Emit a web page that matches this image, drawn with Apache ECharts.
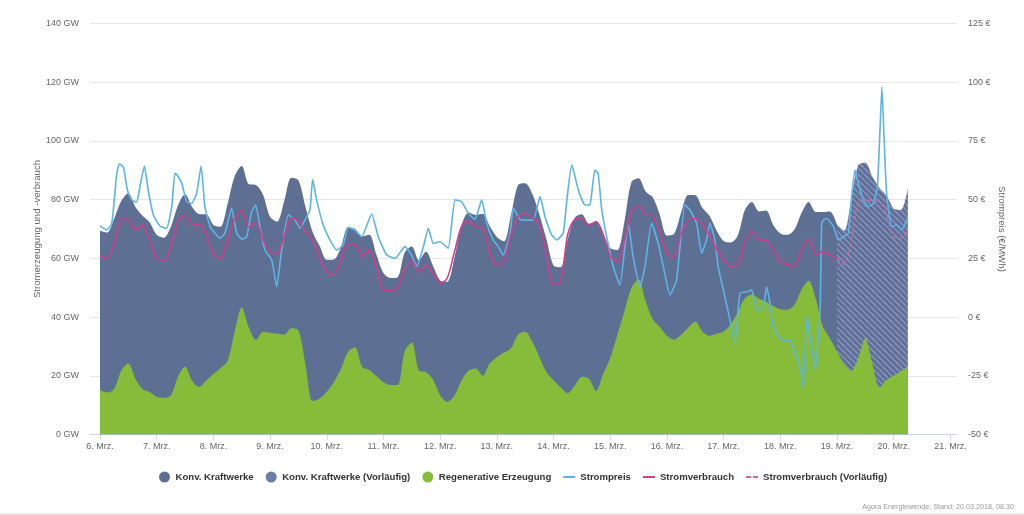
<!DOCTYPE html>
<html><head><meta charset="utf-8">
<script src="https://cdn.jsdelivr.net/npm/echarts@6/dist/echarts.min.js"></script>
<style>html,body{margin:0;padding:0;background:#fff}#c{width:1024px;height:515px}</style>
</head><body><div id="c"></div><script>
// ---- data (hours since 6 March 2018, 00:00) ----
const dayLabels = ['6. Mrz.','7. Mrz.','8. Mrz.','9. Mrz.','10. Mrz.','11. Mrz.','12. Mrz.','13. Mrz.','14. Mrz.','15. Mrz.','16. Mrz.','17. Mrz.','18. Mrz.','19. Mrz.','20. Mrz.','21. Mrz.'];
const dayTickHours = [0,24,48,72,96,120,144,168,192,216,240,264,288,312,336,360];
const hours = [0,3,6,9,12,15,18,21,24,27,30,33,36,39,42,45,48,51,54,57,60,63,66,69,72,75,78,81,84,87,90,93,96,99,102,105,108,111,114,117,120,123,126,129,132,135,138,141,144,147,150,153,156,159,162,165,168,171,174,177,180,183,186,189,192,195,198,201,204,207,210,213,216,219,222,225,228,231,234,237,240,243,246,249,252,255,258,261,264,267,270,273,276,279,282,285,288,291,294,297,300,303,306,309,312,315,318,321,324,327,330,333,336,339,342];
const provisionalFrom = 312;
const regenerative = [
 15.2,14.3,15.5,21.7,24.2,19,15.5,14.5,
 12.9,12.5,13.3,19.7,23.2,18.3,16.2,18.4,
 20.6,22.6,25,35,43.3,36.5,32.2,34.9,
 34.7,34.4,34,36.2,35.5,23.8,11.4,12.3,
 14.6,17.9,22.3,28.1,29.7,23,22,19.9,
 17.8,16.9,16.9,28.4,31.3,21.8,21.3,18.7,
 13.4,11.1,13.2,18.3,21.8,22.5,20,24.2,
 26.3,27.9,29.4,34.1,35,31.6,26.4,21.2,
 18.5,16.1,14.1,16.7,19.7,19,14.8,20.6,
 26.1,33.9,42,50,52.9,45.4,39.3,36.6,
 33.6,32.3,34,36.4,38.5,35.1,33.6,34.3,
 35.1,37.5,41.7,46.4,47.7,46.2,45.2,43.8,
 42.7,42.5,44.2,49.4,52.4,46.2,36.7,32.8,
 28.3,24.2,21.7,26.1,32.8,24,16,18.6,
 20,21.5,23.1];
const conventional = [
 54.2,54.5,58,57.8,58,58.5,59,57.8,
 55.1,54.5,57.5,58.3,58.6,59.2,58.9,56.6,
 50.8,48.2,53.5,53,48.2,48.8,52.8,46.8,
 39.5,38.1,45.5,51.3,51.1,53.7,57.6,51.9,
 44.9,41.7,41.4,42.4,40.3,44.5,46,41.4,
 37.2,36.4,36.7,33.6,32.7,37.5,41,38.7,
 39.1,40.9,46.8,52.9,53.8,52.3,55.2,46.8,
 41,37.9,45.4,50.9,50.6,50.4,48.6,45.3,
 39.1,40.9,52.4,57.1,55.3,52.8,57.7,47.7,
 37.4,28.9,30.5,36,34.4,37.4,41.5,38.2,
 34.2,36,41.5,45.2,43,42.1,40.9,35.2,
 30.8,27.9,26.1,30.1,31.5,29.8,31.1,27.6,
 25.8,25.5,25.6,26.1,26.8,29.6,39.1,43.2,
 43.2,45.2,58.3,65.7,59.8,63.8,68,62.8,
 57,55,60.7];
const consumption = [
 60.6,60,65,73.3,73.4,69.7,71.4,66,
 60,59.2,64.2,72.6,74.7,71.3,71.5,68,
 61.4,59.9,66.3,73.4,76.3,70.6,72.2,66.4,
 62,61.6,67.8,73.8,72.7,69,66.5,60.2,
 55.4,54.6,59.4,64.5,64.5,60.6,62.8,57.4,
 49.2,49,50.1,56,59.2,55.2,57.6,55,
 51.4,53.3,62,70.7,72.8,70.8,70.6,62,
 57.5,59.3,68.3,74.1,75.3,73.8,71.4,61.5,
 51.2,52,68.1,73.2,73.5,71.3,72.5,68.2,
 60.8,58.9,66,76,77.8,74.9,74.5,68.8,
 61.5,60.6,68.4,73.1,73.6,71.8,68,63.1,
 59.4,57.2,57.7,65.7,69,66.3,66.1,62.8,
 59,57.9,57.4,63.2,66.6,61.3,62.3,61.1,
 60,57.9,65.8,79.2,80,79.5,79.2,74.8,
 67.2,66.7,69.7];
const priceHours = [0,2.8,5,7.1,8.2,9.9,11.6,13.4,15.5,16.9,18.8,20.4,22.6,25.4,28.2,30.4,31.7,32.7,34.6,36.7,38.8,40.9,42.8,44.4,46.6,48.7,50.8,52.9,55.7,57.9,60,62.1,64.2,65.9,67.7,69.8,72.7,74.8,76.9,79.7,82.5,84.7,86.8,88.9,90,91.7,94.5,97.4,100.2,103,105.1,107.9,110.8,115,117.8,121.4,124.9,129.1,131.9,134.1,136.9,139,141.1,143.9,147.4,150.3,153.1,155.9,158.7,161.6,163.7,166.5,168.6,170.7,173.6,175,177.8,180.6,183.4,186.3,188.4,191.2,193.3,196.1,197.8,199.7,202.5,205.3,207.4,209.5,210.9,212.4,214.5,217.3,220.1,222.2,223.6,225.7,228.6,230.7,233.5,236.3,238.5,241.3,244.1,247.6,249.7,252.6,254.7,256.8,258.2,260.3,261.7,263.9,266.7,268.8,270.9,273.8,275.9,278,280.8,282.2,283.6,285,288.6,292.1,294.2,296.3,297.7,299.2,300.6,302.7,304.8,305.5,306.3,307.6,310.5,312.6,314.7,316.8,318.2,319.6,321,323.1,325.2,327.4,329.1,330.2,331,331.9,333,335.1,337.2,339.3,341.9];
const priceValues = [38.8,37.1,39.9,61.2,65.2,64,54.1,49.9,48.9,55.5,64.3,54.1,43.5,38.8,37.8,47,61.2,60.5,57,49.1,48.4,52.7,64.3,47,38.5,35.7,33.5,35.7,46.3,35.7,33.2,34.2,44.9,47.7,38.5,28.6,24.3,12.9,28.6,43.5,41.3,37.8,41.3,45.6,58.7,49.9,39.2,32.8,28.6,30.7,38.2,37.1,34.2,43.9,34.2,26.4,25,30,26.4,21.4,30,37.8,31.4,32.1,29.3,49.9,49.1,44.2,41.6,49.9,39.9,32.8,30,26.4,35.7,46.3,41.6,41.3,41.3,51.3,42.7,35,32.8,35.7,51.3,64.8,54.1,47.7,47.8,62.6,61.2,45.6,34.2,21.4,13.7,30,39.9,25.7,12.9,21.4,39.9,31.4,21.4,9.4,15.8,47.7,45.6,39.9,27.2,32.8,39.9,32.8,21.4,11.5,-1.2,-11.2,10.1,10.8,11.5,3,4.4,12.9,5.9,-4.1,-9.8,-9.8,-15.4,-21,-30,0.2,-8.4,-22.5,1.6,39.9,41.3,42,38.5,32.8,34.2,35.7,51.3,62.6,57,49.9,47,48.4,55.5,79.7,98.1,76.8,52.7,38.5,39.2,37.1,42];

// ---- build series data: conventional is drawn on top of regenerative (cumulative top edge) ----
const regenData = hours.map((h, i) => [h, regenerative[i]]);
const convTopActual = hours.map((h, i) => [h, h <= provisionalFrom ? +(regenerative[i] + conventional[i]).toFixed(1) : null]);
const convTopProv = hours.map((h, i) => [h, h >= provisionalFrom ? +(regenerative[i] + conventional[i]).toFixed(1) : null]);
const consActual = hours.map((h, i) => [h, h <= provisionalFrom ? consumption[i] : null]);
const consProv = hours.map((h, i) => [h, h >= provisionalFrom ? consumption[i] : null]);
const priceData = priceHours.map((h, i) => [h, priceValues[i]]);

// hatch pattern
const pc = document.createElement('canvas');
pc.width = 6; pc.height = 6;
const g = pc.getContext('2d');
g.fillStyle = '#5e6e96'; g.fillRect(0, 0, 6, 6);
g.strokeStyle = '#8391b8'; g.lineWidth = 1.6;
[-6, 0, 6].forEach(x0 => { g.beginPath(); g.moveTo(x0, 0); g.lineTo(x0 + 6, 6); g.stroke(); });

const FONT = '"Liberation Sans", Arial, Helvetica, sans-serif';
const lineIcon = 'path://M0,0H12V2H0Z';
const dashIcon = 'path://M0,0H5V2H0ZM7,0H12V2H7Z';
const chart = echarts.init(document.getElementById('c'), null, {renderer: 'canvas'});
chart.setOption({
  animation: false,
  textStyle: {fontFamily: FONT},
  grid: {left: 90, right: 67, top: 23.5, bottom: 80.5, containLabel: false},
  legend: {
    left: 154, top: 466.5, itemWidth: 12, itemHeight: 11, itemGap: 12, symbolKeepAspect: true,
    textStyle: {fontFamily: FONT, fontSize: 9.6, fontWeight: 'bold', color: '#333'},
    data: [
      {name: 'Konv. Kraftwerke', icon: 'circle'},
      {name: 'Konv. Kraftwerke (Vorläufig)', icon: 'circle', itemStyle: {color: '#6e7fa7'}},
      {name: 'Regenerative Erzeugung', icon: 'circle'},
      {name: 'Strompreis', icon: lineIcon},
      {name: 'Stromverbrauch', icon: lineIcon},
      {name: 'Stromverbrauch (Vorläufig)', icon: dashIcon}
    ]
  },
  xAxis: {
    type: 'value', min: -4.23, max: 362.8,
    axisLine: {onZero: false, lineStyle: {color: '#ccd6eb'}},
    axisTick: {show: true, length: 5, customValues: dayTickHours, lineStyle: {color: '#ccd6eb'}},
    axisLabel: {customValues: dayTickHours, formatter: v => dayLabels[Math.round(v / 24)], color: '#666', fontSize: 9, margin: 8, fontFamily: FONT},
    splitLine: {show: false}
  },
  yAxis: [
    {type: 'value', min: 0, max: 140, interval: 20,
     name: 'Stromerzeugung und -verbrauch', nameLocation: 'middle', nameGap: 48, nameRotate: 90, nameMoveOverlap: false,
     nameTextStyle: {color: '#666', fontSize: 9.6, fontFamily: FONT},
     axisLine: {show: false}, axisTick: {show: false},
     axisLabel: {formatter: '{value} GW', color: '#666', fontSize: 9, margin: 11, fontFamily: FONT},
     splitLine: {lineStyle: {color: '#e6e6e6'}}},
    {type: 'value', min: -50, max: 125, interval: 25, position: 'right',
     name: 'Strompreis (€/MWh)', nameLocation: 'middle', nameGap: 40, nameRotate: -90, nameMoveOverlap: false,
     nameTextStyle: {color: '#666', fontSize: 9.6, fontFamily: FONT},
     axisLine: {show: false}, axisTick: {show: false},
     axisLabel: {formatter: '{value} €', color: '#666', fontSize: 9, margin: 11, fontFamily: FONT},
     splitLine: {show: false}}
  ],
  series: [
    {name: 'Konv. Kraftwerke', type: 'line', data: convTopActual, color: '#5e6f94',
     symbol: 'none', smooth: 0.3, lineStyle: {width: 0}, areaStyle: {color: '#5e6f94', opacity: 1, origin: 'start'}, z: 1},
    {name: 'Konv. Kraftwerke (Vorläufig)', type: 'line', data: convTopProv, color: '#6e7fa7',
     symbol: 'none', smooth: 0.3, lineStyle: {width: 0}, areaStyle: {color: {image: pc, repeat: 'repeat'}, opacity: 1, origin: 'start'}, z: 1},
    {name: 'Regenerative Erzeugung', type: 'line', data: regenData, color: '#86bc3a',
     symbol: 'none', smooth: 0.3, lineStyle: {width: 0}, areaStyle: {color: '#86bc3a', opacity: 1, origin: 'start'}, z: 2},
    {name: 'Strompreis', type: 'line', yAxisIndex: 1, data: priceData, color: '#5cb5e6',
     symbol: 'none', smooth: 0.15, lineStyle: {width: 1.6, color: '#5cb5e6'}, z: 4},
    {name: 'Stromverbrauch', type: 'line', data: consActual, color: '#cf3f8c',
     symbol: 'none', smooth: 0.3, lineStyle: {width: 1.6, color: '#cf3f8c'}, z: 5},
    {name: 'Stromverbrauch (Vorläufig)', type: 'line', data: consProv, color: '#d266a3',
     symbol: 'none', smooth: 0.3, lineStyle: {width: 1.4, color: '#d266a3', type: [4, 3]}, z: 5}
  ],
  graphic: [
    {type: 'text', right: 10, top: 503.5, style: {text: 'Agora Energiewende; Stand: 20.03.2018, 08:30', fill: '#999', fontSize: 7.2, fontFamily: FONT}},
    {type: 'rect', left: 0, top: 513.5, shape: {width: 1024, height: 1}, style: {fill: '#d8d8d8'}}
  ]
});
</script></body></html>
